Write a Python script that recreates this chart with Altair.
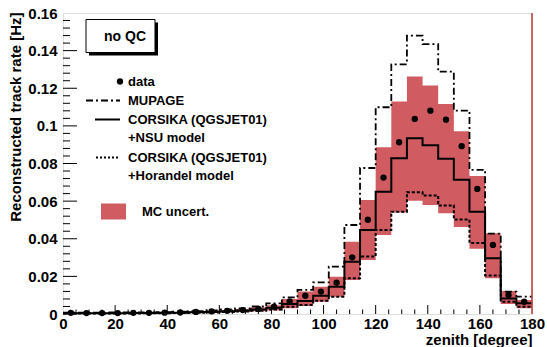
import altair as alt
import pandas as pd

# Zenith binning: 30 bins of 6 degrees between 0 and 180
bin_edges = list(range(0, 180, 6))
bin_width = 6

# Measured rate per bin [Hz]
data_rate = [0.0006, 0.0005, 0.0005, 0.0005, 0.0006, 0.0006, 0.0007, 0.0008, 0.0011, 0.0014,
             0.0017, 0.0021, 0.0027, 0.0039, 0.0067, 0.0097, 0.0119, 0.0166, 0.0301, 0.0501,
             0.0725, 0.0913, 0.1037, 0.1081, 0.1033, 0.0892, 0.0665, 0.0367, 0.0101, 0.0065]

# Monte Carlo predictions [Hz]
mupage = [0.0007, 0.0007, 0.0007, 0.0008, 0.0008, 0.0009, 0.0010, 0.0012, 0.0015, 0.0019,
          0.0024, 0.0030, 0.0040, 0.0057, 0.0088, 0.0128, 0.0168, 0.0252, 0.0473, 0.0776,
          0.1099, 0.1327, 0.1480, 0.1435, 0.1288, 0.1081, 0.0766, 0.0427, 0.0119, 0.0092]
corsika_nsu = [0.0004, 0.0004, 0.0004, 0.0004, 0.0005, 0.0005, 0.0006, 0.0007, 0.0009, 0.0011,
               0.0014, 0.0018, 0.0024, 0.0033, 0.0053, 0.0069, 0.0097, 0.0145, 0.0278, 0.0447,
               0.0650, 0.0828, 0.0934, 0.0897, 0.0825, 0.0714, 0.0544, 0.0296, 0.0083, 0.0057]
corsika_horandel = [0.0003, 0.0003, 0.0003, 0.0003, 0.0003, 0.0004, 0.0004, 0.0005, 0.0006, 0.0008,
                    0.0010, 0.0013, 0.0017, 0.0024, 0.0038, 0.0048, 0.0071, 0.0092, 0.0190, 0.0305,
                    0.0447, 0.0544, 0.0647, 0.0630, 0.0577, 0.0502, 0.0378, 0.0205, 0.0065, 0.0039]

# MC systematic uncertainty band [Hz]
mc_low = [0.0002, 0.0002, 0.0002, 0.0002, 0.0002, 0.0003, 0.0003, 0.0004, 0.0005, 0.0006,
          0.0008, 0.0010, 0.0014, 0.0019, 0.0030, 0.0043, 0.0065, 0.0092, 0.0181, 0.0287,
          0.0420, 0.0539, 0.0602, 0.0580, 0.0535, 0.0462, 0.0347, 0.0190, 0.0053, 0.0030]
mc_high = [0.0006, 0.0006, 0.0006, 0.0006, 0.0007, 0.0008, 0.0009, 0.0010, 0.0013, 0.0016,
           0.0020, 0.0026, 0.0034, 0.0047, 0.0080, 0.0119, 0.0145, 0.0198, 0.0384, 0.0606,
           0.0886, 0.1129, 0.1262, 0.1214, 0.1116, 0.0972, 0.0734, 0.0429, 0.0122, 0.0074]

x_labels = [0, 20, 40, 60, 80, 100, 120, 140, 160, 180]
y_labels = [0, 0.02, 0.04, 0.06, 0.08, 0.1, 0.12, 0.14, 0.16]

W, H = 469, 301
FONT = "Liberation Sans"
BAND = "#d05c62"

edges_closed = bin_edges + [180]


def closed(values):
    return values + [values[-1]]


steps = pd.DataFrame({
    "x": edges_closed,
    "mupage": closed(mupage),
    "nsu": closed(corsika_nsu),
    "horandel": closed(corsika_horandel),
    "lo": closed(mc_low),
    "hi": closed(mc_high),
})
points = pd.DataFrame({"x": [e + bin_width / 2 for e in bin_edges], "rate": data_rate})

xs = alt.Scale(domain=[0, 180], nice=False, zero=False)
ys = alt.Scale(domain=[0, 0.16], nice=False)

axis_style = dict(
    ticks=False, tickSize=0, domain=False, grid=False, labelOverlap=False,
    labelFont=FONT, labelFontWeight="bold", labelFontSize=15, labelColor="black",
    titleFont=FONT, titleFontWeight="bold", titleFontSize=15, titleColor="black",
)
x_axis = alt.Axis(values=x_labels, format="d", labelPadding=2, labelFlush=False,
                  title="zenith [degree]", titleX=W, titleY=30, titleAlign="right",
                  titleBaseline="alphabetic", **axis_style)
y_axis = alt.Axis(values=y_labels, format="~g", labelPadding=6,
                  title="Reconstructed track rate [Hz]", titleAngle=270, titleX=-48, titleY=-1,
                  titleAlign="right", titleBaseline="middle", **axis_style)


def X(field):
    return alt.X(field, type="quantitative", scale=xs, axis=x_axis)


def Y(field):
    return alt.Y(field, type="quantitative", scale=ys, axis=y_axis)


base = alt.Chart(steps)

band = base.mark_area(interpolate="step-after", color=BAND, opacity=1).encode(
    x=X("x"), y=Y("hi"), y2="lo")

line_mupage = base.mark_line(interpolate="step-after", color="black", strokeWidth=1.8,
                             strokeDash=[7, 3, 2, 3]).encode(x=X("x"), y=Y("mupage"))
line_nsu = base.mark_line(interpolate="step-after", color="black", strokeWidth=2).encode(
    x=X("x"), y=Y("nsu"))
line_horandel = base.mark_line(interpolate="step-after", color="black", strokeWidth=2,
                               strokeDash=[3, 2]).encode(x=X("x"), y=Y("horandel"))

dots = alt.Chart(points).mark_circle(color="black", size=40, opacity=1).encode(
    x=X("x"), y=Y("rate"))

# right frame edge
right_edge = alt.Chart(pd.DataFrame({"x": [180]})).mark_rule(color="#b83a3a", strokeWidth=1.5).encode(
    x=X("x"), y=alt.value(0), y2=alt.value(H))

# inward ROOT-style tick marks
y_major = pd.DataFrame({"v": y_labels[:-1]})
y_minor = pd.DataFrame({"v": [i * 0.004 for i in range(40) if i % 5]})
x_major = pd.DataFrame({"v": x_labels[1:-1]})
x_minor = pd.DataFrame({"v": [i * 5 for i in range(36) if i % 4]})

ticks = alt.layer(
    alt.Chart(y_major).mark_rule(color="black", strokeWidth=1).encode(
        y=Y("v"), x=alt.value(0), x2=alt.value(14)),
    alt.Chart(y_minor).mark_rule(color="black", strokeWidth=1).encode(
        y=Y("v"), x=alt.value(0), x2=alt.value(7)),
    alt.Chart(x_major).mark_rule(color="black", strokeWidth=1).encode(
        x=X("v"), y=alt.value(H), y2=alt.value(H - 9)),
    alt.Chart(x_minor).mark_rule(color="black", strokeWidth=1).encode(
        x=X("v"), y=alt.value(H), y2=alt.value(H - 4.5)),
)

# "no QC" label box with shadow
one = pd.DataFrame({"a": [0]})
box_shadow = alt.Chart(one).mark_rect(color="black").encode(
    x=alt.value(26), x2=alt.value(95), y=alt.value(9.5), y2=alt.value(42.5))
box = alt.Chart(one).mark_rect(fill="white", stroke="black", strokeWidth=1).encode(
    x=alt.value(23), x2=alt.value(92), y=alt.value(6.5), y2=alt.value(39.5))
box_text = alt.Chart(one).mark_text(text="no QC", font=FONT, fontWeight="bold", fontSize=14,
                                    align="center", baseline="middle").encode(
    x=alt.value(62), y=alt.value(24))

# legend
leg_x_text = 65
rows = [68.5, 87.5, 106.5, 124.5, 144.5, 162.5, 198.5]
labels = ["data", "MUPAGE", "CORSIKA (QGSJET01)", "+NSU model",
          "CORSIKA (QGSJET01)", "+Horandel model"]

legend_texts = [
    alt.Chart(one).mark_text(text=t, font=FONT, fontWeight="bold", fontSize=13,
                             align="left", baseline="middle").encode(
        x=alt.value(leg_x_text), y=alt.value(r))
    for t, r in zip(labels, rows)
]
legend_texts.append(
    alt.Chart(one).mark_text(text="MC uncert.", font=FONT, fontWeight="bold", fontSize=13,
                             align="left", baseline="middle").encode(
        x=alt.value(79), y=alt.value(rows[6])))

legend_syms = [
    alt.Chart(one).mark_circle(color="black", size=40, opacity=1).encode(
        x=alt.value(57), y=alt.value(rows[0])),
    alt.Chart(one).mark_rule(color="black", strokeWidth=1.8, strokeDash=[7, 3, 2, 3]).encode(
        x=alt.value(23), x2=alt.value(57), y=alt.value(rows[1])),
    alt.Chart(one).mark_rule(color="black", strokeWidth=2).encode(
        x=alt.value(32), x2=alt.value(57), y=alt.value(rows[2])),
    alt.Chart(one).mark_rule(color="black", strokeWidth=2, strokeDash=[2, 2]).encode(
        x=alt.value(33), x2=alt.value(57), y=alt.value(rows[4])),
    alt.Chart(one).mark_rect(color=BAND).encode(
        x=alt.value(38), x2=alt.value(63), y=alt.value(rows[6] - 8), y2=alt.value(rows[6] + 8)),
]

chart = alt.layer(
    band, line_horandel, line_nsu, line_mupage, dots, right_edge, ticks,
    box_shadow, box, box_text, *legend_syms, *legend_texts,
).properties(
    width=W, height=H,
    autosize=alt.AutoSizeParams(type="none"),
    padding={"left": 63, "top": 13, "right": 15, "bottom": 33},
).configure_view(
    stroke="black", strokeWidth=1.5,
).configure(background="white")

chart.save("out.html", embed_options={"renderer": "svg", "actions": False})
